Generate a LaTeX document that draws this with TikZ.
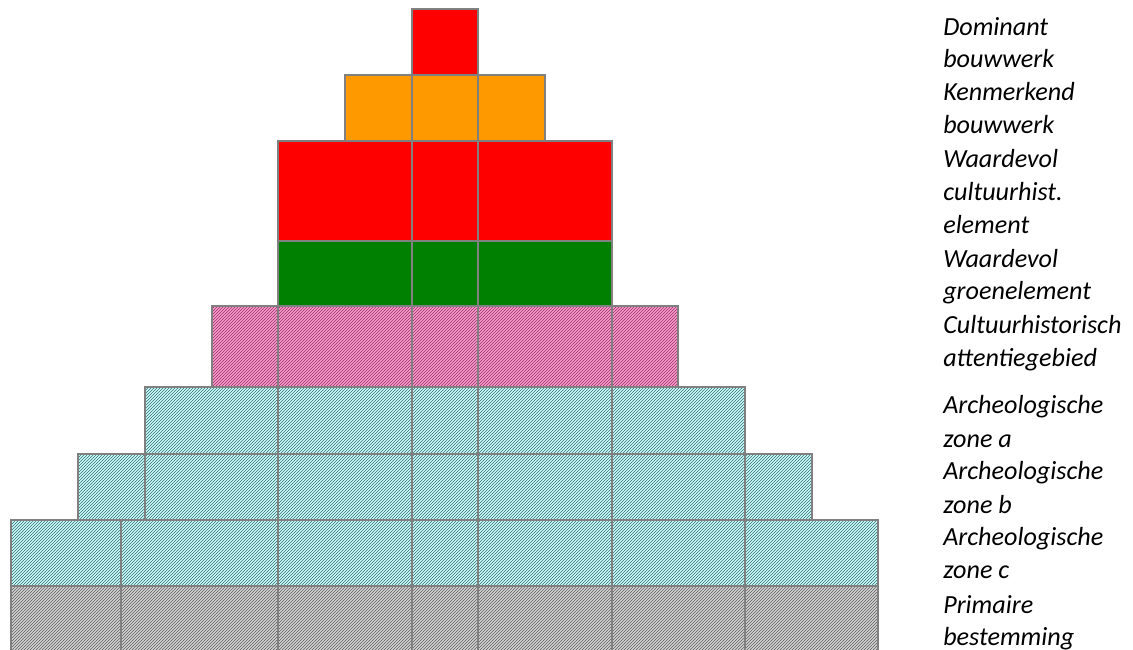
\documentclass[tikz,border=0pt]{standalone}
\usepackage{fontspec}
\setmainfont{Carlito}
\usetikzlibrary{patterns.meta}
\definecolor{gridgray}{HTML}{808080}
\definecolor{redc}{HTML}{FF0000}
\definecolor{orangec}{HTML}{FF9900}
\definecolor{greenc}{HTML}{008000}
\definecolor{pinkbg}{HTML}{FF99CC}
\definecolor{pinkfg}{HTML}{8A3366}
\definecolor{tealbg}{HTML}{CCFFFF}
\definecolor{tealfg}{HTML}{336666}
\definecolor{graybg}{HTML}{D4D4D4}
\definecolor{grayfg}{HTML}{5A5A5A}
\tikzset{
  gridcell/.style={draw=gridgray,line width=1.5pt},
  redcell/.style={fill=redc},
  orangecell/.style={fill=orangec},
  greencell/.style={fill=greenc},
  hatchcell/.style={preaction={fill=#1bg},
    pattern={Lines[angle=45,distance=1.591pt,line width=0.5pt]},pattern color=#1fg},
  legend/.style={anchor=base west,inner sep=0pt,font=\fontsize{19.6}{24}\selectfont\itshape}
}
\begin{document}
\begin{tikzpicture}[x=0.75pt,y=-0.75pt]
\useasboundingbox (0,0) rectangle (1133,650);
\begin{scope}
\clip (0,0) rectangle (1133,650);
% fills
\path[hatchcell=gray] (11,586) rectangle (878,652);
\path[hatchcell=teal] (11,520) rectangle (878,586);
\path[hatchcell=teal] (78,454) rectangle (812,520);
\path[hatchcell=teal] (145,387) rectangle (745,454);
\path[hatchcell=pink] (212,306) rectangle (678,387);
\path[greencell] (278,241) rectangle (612,306);
\path[redcell] (278,141) rectangle (612,241);
\path[orangecell] (345,75) rectangle (545,141);
\path[redcell] (412,9) rectangle (478,75);
% grid lines
\foreach \a/\b in {11/121,121/278,278/412,412/478,478/612,612/745,745/878}
  \draw[gridcell] (\a,586) rectangle (\b,652);
\foreach \a/\b in {11/121,121/278,278/412,412/478,478/612,612/745,745/878}
  \draw[gridcell] (\a,520) rectangle (\b,586);
\foreach \a/\b in {78/145,145/278,278/412,412/478,478/612,612/745,745/812}
  \draw[gridcell] (\a,454) rectangle (\b,520);
\foreach \a/\b in {145/278,278/412,412/478,478/612,612/745}
  \draw[gridcell] (\a,387) rectangle (\b,454);
\foreach \a/\b in {212/278,278/412,412/478,478/612,612/678}
  \draw[gridcell] (\a,306) rectangle (\b,387);
\foreach \a/\b in {278/412,412/478,478/612}
  \draw[gridcell] (\a,241) rectangle (\b,306);
\foreach \a/\b in {278/412,412/478,478/612}
  \draw[gridcell] (\a,141) rectangle (\b,241);
\foreach \a/\b in {345/412,412/478,478/545}
  \draw[gridcell] (\a,75) rectangle (\b,141);
\draw[gridcell] (412,9) rectangle (478,75);
\end{scope}
% legend
\node[legend] (l1a) at (943,35) {Dominant};
\node[legend] (l1b) at (943,67) {bouwwerk};
\node[legend] (l2a) at (943,100) {Kenmerkend};
\node[legend] (l2b) at (943,133) {bouwwerk};
\node[legend] (l3a) at (943,167) {Waardevol};
\node[legend] (l3b) at (943,200) {cultuurhist.};
\node[legend] (l3c) at (943,233) {element};
\node[legend] (l4a) at (943,267) {Waardevol};
\node[legend] (l4b) at (943,299) {groenelement};
\node[legend] (l5a) at (943,333) {Cultuurhistorisch};
\node[legend] (l5b) at (943,366) {attentiegebied};
\node[legend] (l6a) at (943,413) {Archeologische};
\node[legend] (l6b) at (943,447) {zone a};
\node[legend] (l7a) at (943,479) {Archeologische};
\node[legend] (l7b) at (943,513) {zone b};
\node[legend] (l8a) at (943,545) {Archeologische};
\node[legend] (l8b) at (943,578) {zone c};
\node[legend] (l9a) at (943,613) {Primaire};
\node[legend] (l9b) at (943,645) {bestemming};
\end{tikzpicture}
\end{document}
